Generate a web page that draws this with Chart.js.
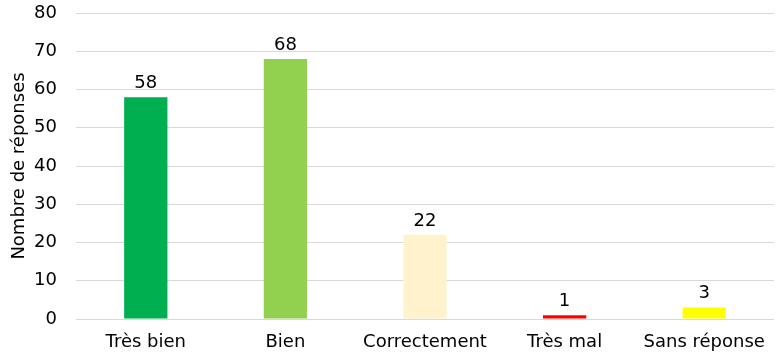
<!DOCTYPE html>
<html>
<head>
<meta charset="utf-8">
<script src="https://cdn.jsdelivr.net/npm/chart.js@4"></script>
<style>
    html, body { margin: 0; padding: 0; background: #fff; }
    #wrap { width: 779px; height: 359px; }
</style>
</head>
<body>
<div id="wrap"><canvas id="barChart"></canvas></div>
<script>
const categories = ['Très bien', 'Bien', 'Correctement', 'Très mal', 'Sans réponse'];
const responses = [58, 68, 22, 1, 3];
const barColors = ['#00B050', '#92D050', '#FFF2CC', '#FF0000', '#FFFF00'];
const yTicks = [0, 10, 20, 30, 40, 50, 60, 70, 80];

const fontFamily = '"DejaVu Sans", sans-serif';

// writes the value just above every bar
const valueLabels = {
    id: 'valueLabels',
    afterDatasetsDraw(chart) {
        const ctx = chart.ctx;
        const meta = chart.getDatasetMeta(0);
        ctx.save();
        ctx.font = '18px ' + fontFamily;
        ctx.fillStyle = '#000';
        ctx.textAlign = 'center';
        ctx.textBaseline = 'bottom';
        meta.data.forEach(function (bar, i) {
            ctx.fillText(responses[i], bar.x, bar.y - 5);
        });
        ctx.restore();
    }
};

const ctx = document.getElementById('barChart').getContext('2d');
const barChart = new Chart(ctx, {
    type: 'bar',
    data: {
        labels: categories,
        datasets: [{
            data: responses,
            backgroundColor: barColors,
            borderWidth: 0,
            barPercentage: 0.31,
            categoryPercentage: 1
        }]
    },
    options: {
        responsive: true,
        maintainAspectRatio: false,
        animation: false,
        layout: {
            padding: { top: 13, right: 5, bottom: 0, left: 0 }
        },
        plugins: {
            legend: { display: false },
            tooltip: { enabled: false }
        },
        scales: {
            x: {
                grid: { display: false, drawTicks: false },
                border: { display: false },
                afterFit: function (scale) {
                    scale.height = 40;
                    scale.paddingLeft = 0;
                    scale.paddingRight = 0;
                },
                ticks: {
                    color: '#000',
                    padding: 13,
                    maxRotation: 0,
                    font: { family: fontFamily, size: 18 }
                }
            },
            y: {
                min: 0,
                max: 80,
                afterBuildTicks: function (scale) {
                    scale.ticks = yTicks.map(v => ({ value: v }));
                },
                afterFit: function (scale) {
                    scale.width = 76;
                    scale.paddingTop = 0;
                    scale.paddingBottom = 0;
                },
                grid: { color: '#D9D9D9', drawTicks: false },
                border: { display: false },
                ticks: {
                    color: '#000',
                    padding: 19,
                    font: { family: fontFamily, size: 18 }
                },
                title: {
                    display: true,
                    text: 'Nombre de réponses',
                    color: '#000',
                    padding: { top: 9, bottom: 0 },
                    font: { family: fontFamily, size: 18 }
                }
            }
        }
    },
    plugins: [valueLabels]
});
</script>
</body>
</html>
